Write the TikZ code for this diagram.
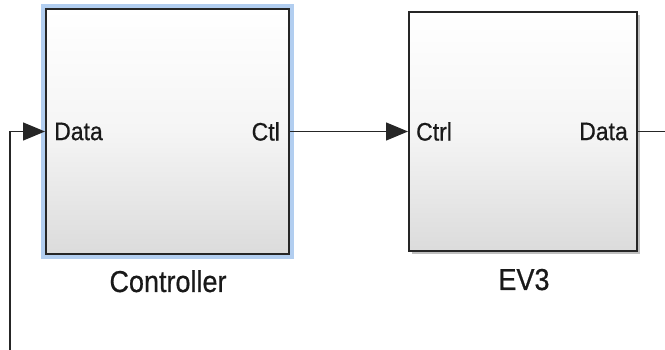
\documentclass[tikz,border=0pt]{standalone}
\usepackage{fontspec}
\setmainfont{Liberation Sans}[FakeBold=0.6]
\usetikzlibrary{arrows.meta,calc}
\definecolor{hilite}{RGB}{178,206,240}
\tikzset{
  blk/.style={draw=black!85, line width=2pt, inner sep=0pt,
     top color=white, bottom color=black!14, middle color=white!96!black, shading angle=0},
  port/.style={font=\fontsize{23}{23}\selectfont, inner sep=0pt, text=black!90},
  lbl/.style={font=\fontsize{27}{27}\selectfont, inner sep=0pt, text=black!90},
  conn/.style={line width=1.4pt, draw=black!85},
  tip/.style={-{Triangle[length=22pt,width=18pt]}},
}
\begin{document}
\begin{tikzpicture}[x=1pt,y=-1pt]
\useasboundingbox (0,0) rectangle (665,350);
% highlight behind controller
\fill[hilite] (41,4) rectangle (294,259);
% Controller block
\node[blk, minimum width=243pt, minimum height=245pt] (ctrl) at (167.5,131.5) {};
% EV3 shadow and block
\fill[black!25] (412,15) rectangle (640,254);
\node[blk, minimum width=228pt, minimum height=239pt] (ev3) at (523,131.5) {};
% port labels
\node[port, anchor=west] (cdata) at ($(ctrl.west)+(9,0)$) {\scalebox{1}[1.1]{Data}};
\node[port, anchor=east] (cctl) at ($(ctrl.east)+(-10,0)$) {\scalebox{1}[1.1]{Ctl}};
\node[port, anchor=west] (ectrl) at ($(ev3.west)+(8,0)$) {\scalebox{1}[1.1]{Ctrl}};
\node[port, anchor=east] (edata) at ($(ev3.east)+(-10,0)$) {\scalebox{1}[1.1]{Data}};
% block names
\node[lbl, anchor=base] (nctrl) at (168,292) {\scalebox{1}[1.12]{Controller}};
\node[lbl, anchor=base] (nev3) at (524,290) {\scalebox{1}[1.12]{EV3}};
% connectors
\coordinate (fbstart) at (10,352);
\coordinate (outend) at (667,131.5);
\draw[conn, tip] (ctrl.east) -- (ev3.west);
\draw[conn] (ev3.east) -- (outend);
\draw[conn, tip] (fbstart) |- (ctrl.west);
\end{tikzpicture}
\end{document}
